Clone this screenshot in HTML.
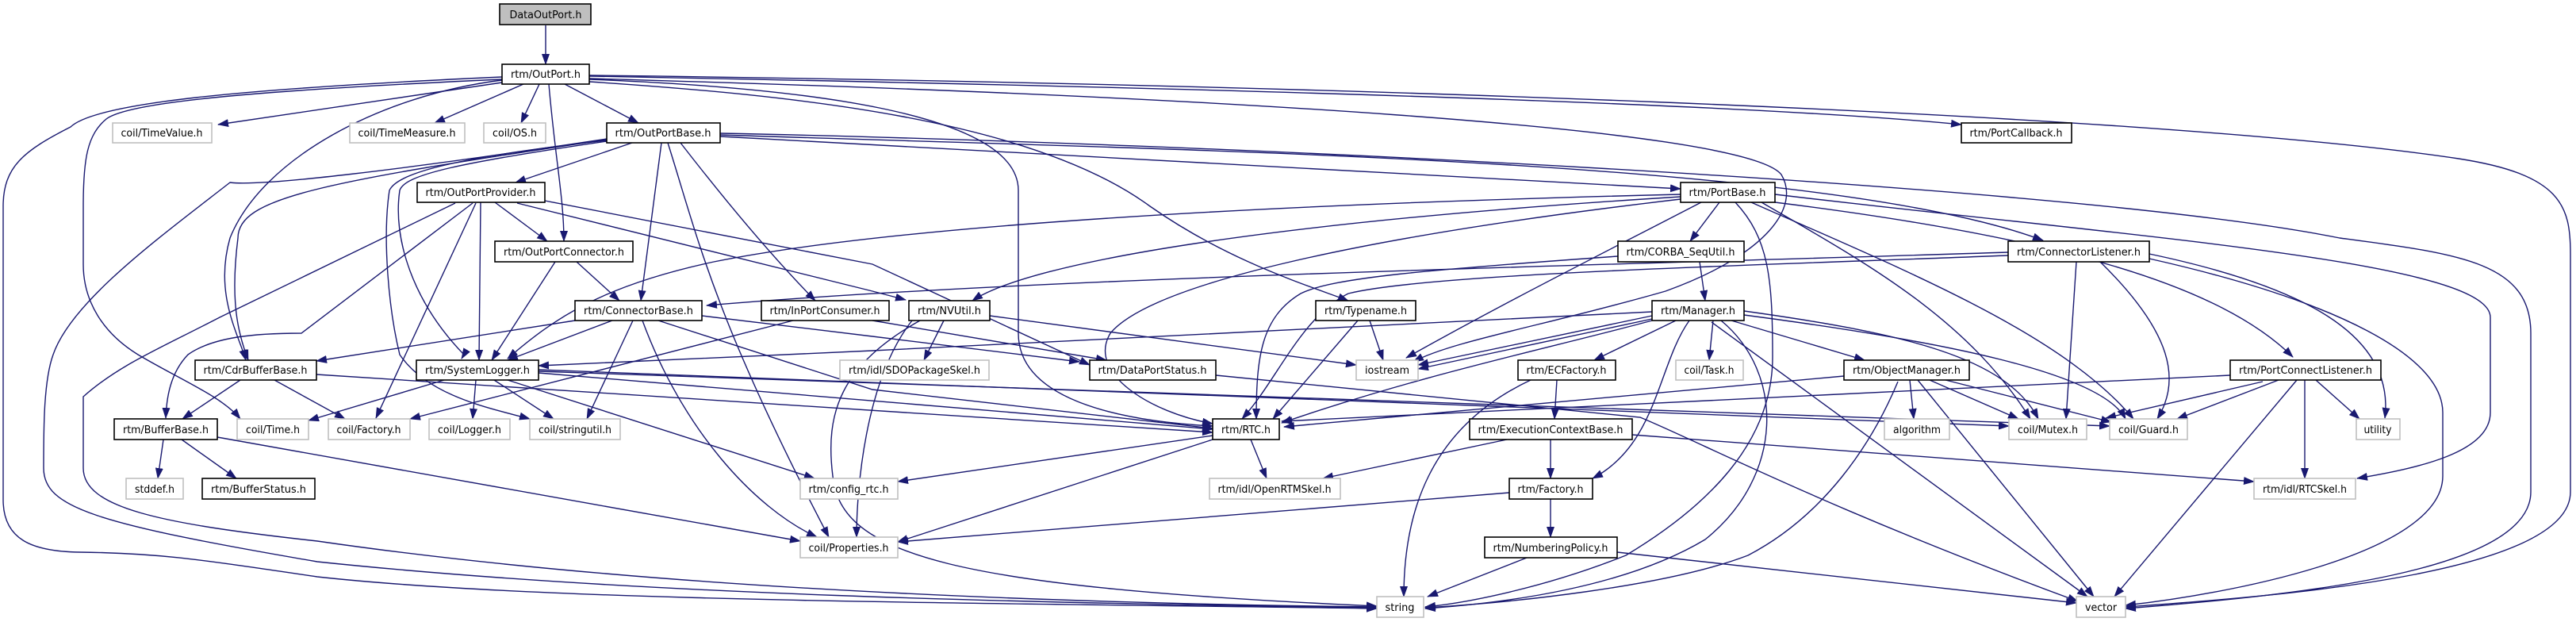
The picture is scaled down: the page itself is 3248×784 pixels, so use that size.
<!DOCTYPE html>
<html><head><meta charset="utf-8"><style>
html,body{margin:0;padding:0;background:#fff;}
svg{display:block;}
.e{fill:none;stroke:#191970;stroke-width:1.4;marker-end:url(#a);}
.b{fill:#fff;stroke:#000;stroke-width:1.6;}
.g{fill:#fff;stroke:#bfbfbf;stroke-width:1.6;}
text{font-family:"DejaVu Sans","Liberation Sans",sans-serif;font-size:13px;fill:#000;text-anchor:middle;}
</style></head><body>
<svg width="3248" height="784" viewBox="0 0 3248 784" xmlns="http://www.w3.org/2000/svg">
<defs><marker id="a" markerUnits="userSpaceOnUse" markerWidth="14" markerHeight="10" refX="13" refY="5" orient="auto"><path d="M0,0 L14,5 L0,10 z" fill="#191970"/></marker></defs>
<g>
<!-- DataOutPort / OutPort -->
<path class="e" d="M688,32 L688,81"/>
<path class="e" d="M633,104 L275,157"/>
<path class="e" d="M660,106 L548,155"/>
<path class="e" d="M680,106 L657,155"/>
<path class="e" d="M712,106 L805,155"/>
<path class="e" d="M692,106 C700,200 711,250 711,304"/>
<path class="e" d="M633,101 C480,120 330,200 290,300 C270,370 300,420 310,454"/>
<path class="e" d="M633,100 C300,115 160,130 134,150 C110,170 105,200 105,260 L105,333 C105,380 130,420 174,447 C230,480 280,500 303,528"/>
<path class="e" d="M633,97 C300,112 120,130 89,160 C30,190 4,210 4,260 L4,630 C4,680 40,695 100,696 C200,697 250,705 400,727 C700,760 1300,760 1736,767"/>
<path class="e" d="M743,100 C1000,110 1284,140 1284,240 L1284,420 C1284,500 1400,530 1529,537"/>
<path class="e" d="M743,103 C1000,120 1300,150 1450,260 C1550,330 1650,360 1700,379"/>
<path class="e" d="M743,99 C1500,120 2200,160 2246,220 C2270,260 2230,320 2100,367 C1950,410 1830,430 1782,456"/>
<path class="e" d="M743,96 C1500,110 2200,130 2473,157"/>
<path class="e" d="M743,95 C1600,105 2700,140 3100,200 C3230,220 3241,260 3241,320 L3241,620 C3241,720 2900,750 2680,765"/>
<!-- OutPortBase -->
<path class="e" d="M797,180 L650,230"/>
<path class="e" d="M834,180 L808,379"/>
<path class="e" d="M858,180 C920,260 980,330 1028,379"/>
<path class="e" d="M908,172 L2119,238"/>
<path class="e" d="M908,170 C1500,190 2300,200 2576,303"/>
<path class="e" d="M908,168 C1500,180 2600,230 2950,300 C3100,320 3191,330 3191,420 L3191,620 C3191,720 2900,750 2680,767"/>
<path class="e" d="M765,177 C560,200 500,220 491,240 C482,300 490,390 504,447 C540,500 620,515 668,528"/>
<path class="e" d="M765,178 C580,205 510,220 504,240 C495,300 520,380 585,447 L582,452"/>
<path class="e" d="M765,176 C400,230 300,250 300,300 C290,380 300,420 313,454"/>
<path class="e" d="M765,175 C500,215 330,235 290,230 C200,300 90,380 67,447 C55,480 55,540 55,590 C55,640 120,660 400,708 C800,750 1300,760 1736,766"/>
<path class="e" d="M842,180 C880,300 900,400 1045,677"/>
<!-- OutPortProvider -->
<path class="e" d="M624,255 L690,304"/>
<path class="e" d="M606,255 L604,454"/>
<path class="e" d="M600,256 L474,527"/>
<path class="e" d="M574,256 L277,400 C200,440 150,460 105,500 L105,590 C105,640 200,660 400,682 C800,740 1300,760 1736,765"/>
<path class="e" d="M596,256 L380,420 C320,420 268,425 237,447 C215,470 210,500 209,527"/>
<path class="e" d="M687,253 L1100,333 L1374,460"/>
<path class="e" d="M652,256 L1100,367 L1142,378"/>
<!-- OutPortConnector / ConnectorBase -->
<path class="e" d="M727,330 L781,379"/>
<path class="e" d="M700,330 L620,454"/>
<path class="e" d="M725,404 L399,455"/>
<path class="e" d="M772,404 L640,454"/>
<path class="e" d="M798,404 L740,528"/>
<path class="e" d="M810,404 C860,540 950,640 1030,677"/>
<path class="e" d="M830,404 L1100,491 L1529,540"/>
<path class="e" d="M885,398 L1100,424 L1361,456"/>
<!-- InPortConsumer / NVUtil / Typename -->
<path class="e" d="M1000,404 L517,528"/>
<path class="e" d="M1100,404 L1395,454"/>
<path class="e" d="M1190,404 L1165,454"/>
<path class="e" d="M1248,398 L1710,460"/>
<path class="e" d="M1160,404 C1060,460 1040,520 1050,600 C1060,700 1200,740 1736,764"/>
<path class="e" d="M1150,404 C1090,480 1080,620 1080,677"/>
<path class="e" d="M1727,404 L1744,454"/>
<path class="e" d="M1712,404 L1605,528"/>
<!-- PortBase -->
<path class="e" d="M2168,255 L2131,304"/>
<path class="e" d="M2145,255 C2000,330 1900,380 1773,451"/>
<path class="e" d="M2119,245 C1500,260 1100,290 900,330 C760,360 700,400 640,452"/>
<path class="e" d="M2119,248 C1600,280 1300,330 1226,379"/>
<path class="e" d="M2119,251 C1700,300 1450,360 1400,420 C1370,470 1450,520 1529,534"/>
<path class="e" d="M2238,255 C2600,300 2800,360 2891,450"/>
<path class="e" d="M2221,255 C2350,330 2480,400 2560,528"/>
<path class="e" d="M2208,255 C2400,340 2600,420 2690,528"/>
<path class="e" d="M2238,245 C2700,300 3140,330 3140,400 L3140,520 C3140,570 3050,590 2972,603"/>
<path class="e" d="M2188,255 C2230,300 2235,350 2235,450 C2235,560 2150,640 2050,700 C1950,740 1850,760 1797,765"/>
<!-- CORBA_SeqUtil / ConnectorListener -->
<path class="e" d="M2143,330 L2150,379"/>
<path class="e" d="M2040,323 C1800,340 1680,350 1640,370 C1590,400 1584,450 1584,528"/>
<path class="e" d="M2532,322 C2200,335 1800,345 1700,370 C1640,400 1610,480 1566,528"/>
<path class="e" d="M2532,318 C2000,335 1300,350 891,385"/>
<path class="e" d="M2618,330 L2605,528"/>
<path class="e" d="M2648,330 C2740,420 2750,480 2720,528"/>
<path class="e" d="M2710,320 C2900,360 3020,420 3007,527"/>
<path class="e" d="M2710,326 C2950,380 3080,450 3080,520 L3080,600 C3080,700 2800,750 2680,763"/>
<!-- Manager -->
<path class="e" d="M2160,404 L2155,454"/>
<path class="e" d="M2113,404 L2010,454"/>
<path class="e" d="M2083,398 L1788,460"/>
<path class="e" d="M2083,402 L1788,465"/>
<path class="e" d="M2083,404 C1950,440 1800,470 1616,533"/>
<path class="e" d="M2083,393 L1100,442 L679,461"/>
<path class="e" d="M2130,404 C2090,460 2090,560 2008,603"/>
<path class="e" d="M2170,404 C2250,470 2250,600 2150,680 C2050,740 1900,760 1797,767"/>
<path class="e" d="M2158,406 L2632,752"/>
<path class="e" d="M2183,404 L2351,454"/>
<path class="e" d="M2199,392 C2400,420 2530,450 2570,528"/>
<path class="e" d="M2199,397 C2450,430 2650,470 2680,528"/>
<!-- ObjectManager -->
<path class="e" d="M2325,474 L1619,538"/>
<path class="e" d="M2408,479 L2413,528"/>
<path class="e" d="M2433,479 L2545,528"/>
<path class="e" d="M2453,479 L2662,532"/>
<path class="e" d="M2418,479 L2640,752"/>
<path class="e" d="M2393,481 C2360,560 2300,650 2204,700 C2100,740 1900,760 1797,766"/>
<!-- PortConnectListener -->
<path class="e" d="M2812,473 L1616,531"/>
<path class="e" d="M2853,481 L2655,527"/>
<path class="e" d="M2873,479 L2745,528"/>
<path class="e" d="M2906,479 L2906,603"/>
<path class="e" d="M2920,479 L2975,528"/>
<path class="e" d="M2896,479 L2666,752"/>
<!-- ECFactory / ExecutionContextBase / Factory / NumberingPolicy -->
<path class="e" d="M1963,479 L1960,528"/>
<path class="e" d="M1930,479 C1800,540 1770,650 1770,752"/>
<path class="e" d="M1955,554 L1955,603"/>
<path class="e" d="M1900,554 L1668,603"/>
<path class="e" d="M2058,548 L2842,607"/>
<path class="e" d="M1903,621 L1132,683"/>
<path class="e" d="M1955,629 L1955,677"/>
<path class="e" d="M1925,703 L1800,752"/>
<path class="e" d="M2039,696 L2618,760"/>
<!-- RTC -->
<path class="e" d="M1529,549 L1132,607"/>
<path class="e" d="M1529,554 L1132,683"/>
<path class="e" d="M1577,554 L1597,603"/>
<!-- SystemLogger -->
<path class="e" d="M560,479 L389,530"/>
<path class="e" d="M600,479 L596,528"/>
<path class="e" d="M623,479 L698,528"/>
<path class="e" d="M640,479 L1027,603"/>
<path class="e" d="M679,470 L1529,541"/>
<path class="e" d="M679,466 L2533,537"/>
<path class="e" d="M679,468 L2660,537"/>
<!-- CdrBufferBase / BufferBase / DataPortStatus -->
<path class="e" d="M303,479 L230,528"/>
<path class="e" d="M346,479 L435,528"/>
<path class="e" d="M399,472 L1529,545"/>
<path class="e" d="M206,554 L199,603"/>
<path class="e" d="M229,554 L298,603"/>
<path class="e" d="M274,551 L1009,682"/>
<path class="e" d="M1533,473 L2068,526 C2150,560 2300,640 2620,758"/>
</g>
<g>
<rect x="630" y="5" width="115" height="26" fill="#bfbfbf" stroke="#000" stroke-width="1.6"/><text x="688" y="23" textLength="91" lengthAdjust="spacingAndGlyphs">DataOutPort.h</text>
<rect class="b" x="633" y="81" width="110" height="25"/><text x="688" y="98" textLength="88" lengthAdjust="spacingAndGlyphs">rtm/OutPort.h</text>
<rect class="g" x="142" y="155" width="125" height="25"/><text x="204" y="172" textLength="103" lengthAdjust="spacingAndGlyphs">coil/TimeValue.h</text>
<rect class="g" x="441" y="155" width="145" height="25"/><text x="513" y="172" textLength="123" lengthAdjust="spacingAndGlyphs">coil/TimeMeasure.h</text>
<rect class="g" x="610" y="155" width="78" height="25"/><text x="649" y="172" textLength="56" lengthAdjust="spacingAndGlyphs">coil/OS.h</text>
<rect class="b" x="765" y="155" width="143" height="25"/><text x="836" y="172" textLength="121" lengthAdjust="spacingAndGlyphs">rtm/OutPortBase.h</text>
<rect class="b" x="2473" y="155" width="139" height="25"/><text x="2542" y="172" textLength="117" lengthAdjust="spacingAndGlyphs">rtm/PortCallback.h</text>
<rect class="b" x="526" y="230" width="161" height="25"/><text x="606" y="247" textLength="139" lengthAdjust="spacingAndGlyphs">rtm/OutPortProvider.h</text>
<rect class="b" x="2119" y="230" width="119" height="25"/><text x="2178" y="247" textLength="97" lengthAdjust="spacingAndGlyphs">rtm/PortBase.h</text>
<rect class="b" x="624" y="304" width="174" height="26"/><text x="711" y="322" textLength="152" lengthAdjust="spacingAndGlyphs">rtm/OutPortConnector.h</text>
<rect class="b" x="2040" y="304" width="159" height="26"/><text x="2119" y="322" textLength="137" lengthAdjust="spacingAndGlyphs">rtm/CORBA_SeqUtil.h</text>
<rect class="b" x="2532" y="304" width="178" height="26"/><text x="2621" y="322" textLength="156" lengthAdjust="spacingAndGlyphs">rtm/ConnectorListener.h</text>
<rect class="b" x="725" y="379" width="160" height="25"/><text x="805" y="396" textLength="138" lengthAdjust="spacingAndGlyphs">rtm/ConnectorBase.h</text>
<rect class="b" x="960" y="379" width="161" height="25"/><text x="1040" y="396" textLength="139" lengthAdjust="spacingAndGlyphs">rtm/InPortConsumer.h</text>
<rect class="b" x="1146" y="379" width="102" height="25"/><text x="1197" y="396" textLength="80" lengthAdjust="spacingAndGlyphs">rtm/NVUtil.h</text>
<rect class="b" x="1659" y="379" width="126" height="25"/><text x="1722" y="396" textLength="104" lengthAdjust="spacingAndGlyphs">rtm/Typename.h</text>
<rect class="b" x="2083" y="379" width="116" height="25"/><text x="2141" y="396" textLength="94" lengthAdjust="spacingAndGlyphs">rtm/Manager.h</text>
<rect class="b" x="246" y="454" width="153" height="25"/><text x="322" y="471" textLength="131" lengthAdjust="spacingAndGlyphs">rtm/CdrBufferBase.h</text>
<rect class="b" x="525" y="454" width="154" height="25"/><text x="602" y="471" textLength="132" lengthAdjust="spacingAndGlyphs">rtm/SystemLogger.h</text>
<rect class="g" x="1059" y="454" width="188" height="25"/><text x="1153" y="471" textLength="166" lengthAdjust="spacingAndGlyphs">rtm/idl/SDOPackageSkel.h</text>
<rect class="b" x="1374" y="454" width="159" height="25"/><text x="1453" y="471" textLength="137" lengthAdjust="spacingAndGlyphs">rtm/DataPortStatus.h</text>
<rect class="g" x="1710" y="454" width="78" height="25"/><text x="1749" y="471" textLength="56" lengthAdjust="spacingAndGlyphs">iostream</text>
<rect class="b" x="1914" y="454" width="123" height="25"/><text x="1975" y="471" textLength="101" lengthAdjust="spacingAndGlyphs">rtm/ECFactory.h</text>
<rect class="g" x="2113" y="454" width="85" height="25"/><text x="2155" y="471" textLength="63" lengthAdjust="spacingAndGlyphs">coil/Task.h</text>
<rect class="b" x="2325" y="454" width="158" height="25"/><text x="2404" y="471" textLength="136" lengthAdjust="spacingAndGlyphs">rtm/ObjectManager.h</text>
<rect class="b" x="2812" y="454" width="190" height="25"/><text x="2907" y="471" textLength="168" lengthAdjust="spacingAndGlyphs">rtm/PortConnectListener.h</text>
<rect class="b" x="144" y="528" width="130" height="26"/><text x="209" y="546" textLength="108" lengthAdjust="spacingAndGlyphs">rtm/BufferBase.h</text>
<rect class="g" x="299" y="528" width="90" height="26"/><text x="344" y="546" textLength="68" lengthAdjust="spacingAndGlyphs">coil/Time.h</text>
<rect class="g" x="414" y="528" width="103" height="26"/><text x="465" y="546" textLength="81" lengthAdjust="spacingAndGlyphs">coil/Factory.h</text>
<rect class="g" x="541" y="528" width="102" height="26"/><text x="592" y="546" textLength="80" lengthAdjust="spacingAndGlyphs">coil/Logger.h</text>
<rect class="g" x="668" y="528" width="114" height="26"/><text x="725" y="546" textLength="92" lengthAdjust="spacingAndGlyphs">coil/stringutil.h</text>
<rect class="b" x="1529" y="528" width="84" height="26"/><text x="1571" y="546" textLength="62" lengthAdjust="spacingAndGlyphs">rtm/RTC.h</text>
<rect class="b" x="1853" y="528" width="205" height="26"/><text x="1955" y="546" textLength="183" lengthAdjust="spacingAndGlyphs">rtm/ExecutionContextBase.h</text>
<rect class="g" x="2376" y="528" width="82" height="26"/><text x="2417" y="546" textLength="60" lengthAdjust="spacingAndGlyphs">algorithm</text>
<rect class="g" x="2533" y="528" width="98" height="26"/><text x="2582" y="546" textLength="76" lengthAdjust="spacingAndGlyphs">coil/Mutex.h</text>
<rect class="g" x="2660" y="528" width="98" height="26"/><text x="2709" y="546" textLength="76" lengthAdjust="spacingAndGlyphs">coil/Guard.h</text>
<rect class="g" x="2971" y="528" width="55" height="26"/><text x="2998" y="546" textLength="35" lengthAdjust="spacingAndGlyphs">utility</text>
<rect class="g" x="159" y="603" width="72" height="26"/><text x="195" y="621" textLength="50" lengthAdjust="spacingAndGlyphs">stddef.h</text>
<rect class="b" x="255" y="603" width="142" height="26"/><text x="326" y="621" textLength="120" lengthAdjust="spacingAndGlyphs">rtm/BufferStatus.h</text>
<rect class="g" x="1009" y="603" width="123" height="26"/><text x="1070" y="621" textLength="101" lengthAdjust="spacingAndGlyphs">rtm/config_rtc.h</text>
<rect class="g" x="1525" y="603" width="165" height="26"/><text x="1607" y="621" textLength="143" lengthAdjust="spacingAndGlyphs">rtm/idl/OpenRTMSkel.h</text>
<rect class="b" x="1903" y="603" width="105" height="26"/><text x="1955" y="621" textLength="83" lengthAdjust="spacingAndGlyphs">rtm/Factory.h</text>
<rect class="g" x="2842" y="603" width="128" height="26"/><text x="2906" y="621" textLength="106" lengthAdjust="spacingAndGlyphs">rtm/idl/RTCSkel.h</text>
<rect class="g" x="1009" y="677" width="123" height="26"/><text x="1070" y="695" textLength="101" lengthAdjust="spacingAndGlyphs">coil/Properties.h</text>
<rect class="b" x="1872" y="677" width="167" height="26"/><text x="1955" y="695" textLength="145" lengthAdjust="spacingAndGlyphs">rtm/NumberingPolicy.h</text>
<rect class="g" x="1736" y="752" width="59" height="26"/><text x="1765" y="770" textLength="37" lengthAdjust="spacingAndGlyphs">string</text>
<rect class="g" x="2618" y="752" width="62" height="26"/><text x="2649" y="770" textLength="40" lengthAdjust="spacingAndGlyphs">vector</text>
</g>
</svg>
</body></html>
